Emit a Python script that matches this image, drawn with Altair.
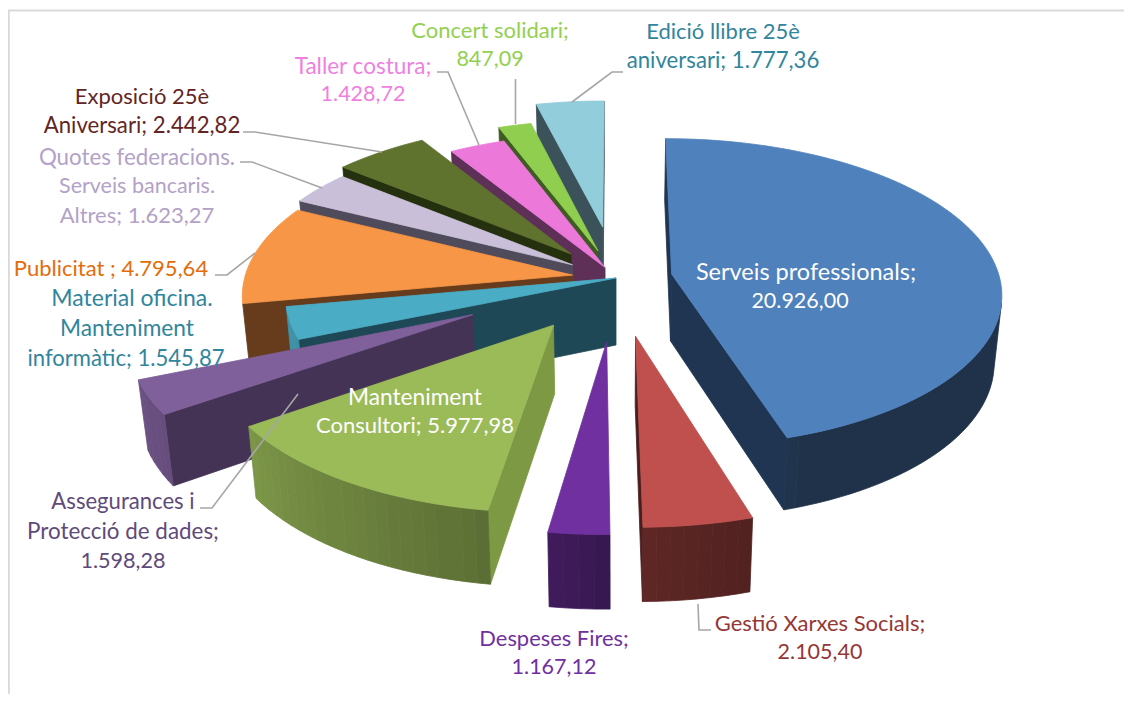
import math
import altair as alt
import numpy as np

# ---------- data ----------
CATEGORIES = ["Serveis professionals", "Gestió Xarxes Socials", "Despeses Fires",
              "Manteniment Consultori", "Assegurances i Protecció de dades",
              "Material oficina. Manteniment informàtic", "Publicitat",
              "Quotes federacions. Serveis bancaris. Altres", "Exposició 25è Aniversari",
              "Taller costura", "Concert solidari", "Edició llibre 25è aniversari"]
VALUES = [20926.00, 2105.40, 1167.12, 5977.98, 1598.28, 1545.87,
          4795.64, 1623.27, 2442.82, 1428.72, 847.09, 1777.36]
EXPLODE = [0.172, 0.37, 0.40, 0.35, 0.485, 0.0, 0.134, 0.16, 0.213, 0.077, 0.19, 0.35]
TOP_COLORS = ["#4f81bd", "#c0504d", "#7030a0", "#9bbb59", "#7f609b", "#4bacc6",
              "#f79646", "#c9bfd9", "#5f732e", "#ec78da", "#8fce4e", "#92cddc"]
CUT_COLORS = ["#1f3552", "#4a1e1d", "#401c5e", "#7e9944", "#443355", "#1f4857",
              "#663c1d", "#4f4b5a", "#25300f", "#5e3058", "#3f5a22", "#3c525b"]
PAINT_ORDER = [11, 10, 9, 8, 7, 6, 5, 4, 3, 2, 1, 0]

LABEL_TEXT = ["Concert solidari;", "847,09", "Edició llibre 25è", "aniversari; 1.777,36",
              "Taller costura;", "1.428,72", "Exposició 25è", "Aniversari; 2.442,82",
              "Quotes federacions.", "Serveis bancaris.", "Altres; 1.623,27",
              "Publicitat ; 4.795,64", "Material oficina.", "Manteniment", "informàtic; 1.545,87",
              "Manteniment", "Consultori; 5.977,98", "Assegurances i", "Protecció de dades;",
              "1.598,28", "Despeses Fires;", "1.167,12", "Gestió Xarxes Socials;", "2.105,40",
              "Serveis professionals;", "20.926,00"]
LABEL_COLOR = ["#92d050"] * 2 + ["#31859c"] * 2 + ["#f07fdf"] * 2 + ["#632523"] * 2 + \
              ["#b3a2c7"] * 3 + ["#e46c0a"] + ["#31859c"] * 3 + ["#ffffff"] * 2 + \
              ["#604a7b"] * 3 + ["#7030a0"] * 2 + ["#953735"] * 2 + ["#ffffff"] * 2
LABEL_X = [490, 490, 723, 723, 363, 363, 142, 142, 137, 137, 137, 111, 132, 127, 126,
           415, 415, 123, 123, 123, 554, 554, 820, 820, 806, 800]
LABEL_Y = [31, 60, 32, 61, 67, 95, 97, 126, 158, 187, 216, 269, 299, 329, 359,
           398, 426, 502, 532, 562, 639, 668, 624, 653, 273, 302]
LABEL_SIZE = [22, 21.5, 22, 22.2, 22.5, 21.5, 22, 22.2, 22.3, 21.5, 22, 22, 23, 22.7, 22.1,
              22.7, 22, 22.1, 22.4, 21.6, 21.9, 21.5, 22, 21.5, 23.5, 21.5]
LEADERS = [[(243, 132), (255, 132), (382, 152)], [(240, 162), (252, 162), (322, 188)],
           [(437, 72), (448, 72), (479, 145)], [(515.5, 79), (515.5, 124)],
           [(623, 72), (612, 72), (572, 102)], [(215, 275), (227, 275), (255, 253)],
           [(200, 508), (212, 508), (298, 394)], [(698, 604), (699, 630), (711, 630)]]
FRAME = [(8.8, 694), (8.8, 10.5), (1124, 10.5)]

# ---------- 3D pie projection ----------
W, H = 1116, 686
CX, CY, A, B, K = 616, 278, 328, 152.6, 0.12


def project(x, y, bottom=False):
    w = 1 + K * y
    sx = CX + A * x / w
    sy = CY - B * y / w
    if bottom:
        sx = CX + (sx - CX) * 0.98
        sy += 67 + (1 - w) * 45
    return [round(sx, 2), round(sy, 2)]


def shade(hex_color, f):
    rgb = [int(hex_color[i:i + 2], 16) for i in (1, 3, 5)]
    return "#%02x%02x%02x" % tuple(int(round(c * f)) for c in rgb)


def poly(points, color):
    ring = points + [points[0]]
    return {"type": "Feature", "properties": {"c": color},
            "geometry": {"type": "Polygon", "coordinates": [ring]}}


def faces_viewer(points):
    # seen from outside a wall's corners run with negative signed area on a y-down screen
    area = sum(points[i][0] * points[(i + 1) % len(points)][1] - points[(i + 1) % len(points)][0] * points[i][1]
               for i in range(len(points)))
    return area < 0


total = sum(VALUES)
edges = np.cumsum([0] + [v / total * 360 for v in VALUES])
features = []
for i in PAINT_ORDER:
    t1, t2 = edges[i], edges[i + 1]
    mid = math.radians((t1 + t2) / 2)
    ax, ay = EXPLODE[i] * math.sin(mid), EXPLODE[i] * math.cos(mid)
    n = max(2, int((t2 - t1) / 2))
    ts = np.linspace(t1, t2, n + 1)
    rim = [(ax + math.sin(math.radians(t)), ay + math.cos(math.radians(t))) for t in ts]
    # cut faces (only those that look at the viewer)
    p0, p1 = rim[0], rim[-1]
    for face in ([project(ax, ay), project(*p0), project(*p0, True), project(ax, ay, True)],
                 [project(*p1), project(ax, ay), project(ax, ay, True), project(*p1, True)]):
        if faces_viewer(face):
            features.append(poly(face, CUT_COLORS[i]))
    # outer wall: neighbouring strips of the same shade are merged into one polygon
    runs = []
    for j in range(n):
        f = float(np.interp((ts[j] + ts[j + 1]) / 2, [160, 165, 180, 190, 235, 250],
                            [0.39, 0.43, 0.50, 0.60, 0.80, 0.85]))
        strip = [project(*rim[j]), project(*rim[j + 1]), project(*rim[j + 1], True), project(*rim[j], True)]
        if not faces_viewer(strip):
            continue
        c = shade(TOP_COLORS[i], round(f * 100) / 100)
        if runs and runs[-1][0] == c and runs[-1][2] == j:
            runs[-1][1].append(j + 1)
            runs[-1][2] = j + 1
        else:
            runs.append([c, [j, j + 1], j + 1])
    for c, idx, _ in runs:
        features.append(poly([project(*rim[k]) for k in idx] +
                             [project(*rim[k], True) for k in reversed(idx)], c))
    # top surface
    features.append(poly([project(ax, ay)] + [project(*p) for p in rim], TOP_COLORS[i]))

lines = [{"type": "Feature", "properties": {"c": "#a6a6a6", "sw": 1.6},
          "geometry": {"type": "LineString", "coordinates": [list(p) for p in l]}} for l in LEADERS]
lines.append({"type": "Feature", "properties": {"c": "#d9d9d9", "sw": 2},
              "geometry": {"type": "LineString", "coordinates": [list(p) for p in FRAME]}})

slices = alt.Chart(alt.Data(values=features)).mark_geoshape(strokeWidth=0.8).encode(
    fill=alt.Fill("properties.c:N", scale=None),
    stroke=alt.Stroke("properties.c:N", scale=None),
).project(**{"type": "identity", "scale": 1, "translate": [-8, -8]})

leader = alt.Chart(alt.Data(values=lines)).mark_geoshape(filled=False).encode(
    stroke=alt.Stroke("properties.c:N", scale=None),
    strokeWidth=alt.StrokeWidth("properties.sw:Q", scale=None),
).project(**{"type": "identity", "scale": 1, "translate": [-8, -8]})

rows = [{"t": t, "c": c, "x": x, "y": y, "s": s}
        for t, c, x, y, s in zip(LABEL_TEXT, LABEL_COLOR, LABEL_X, LABEL_Y, LABEL_SIZE)]
labels = alt.Chart(alt.Data(values=rows)).mark_text(
    font="Lato", align="center", baseline="middle"
).encode(
    x=alt.X("x:Q", axis=None, scale=alt.Scale(domain=[8, 8 + W], nice=False, zero=False)),
    y=alt.Y("y:Q", axis=None, scale=alt.Scale(domain=[8 + H, 8], nice=False, zero=False)),
    text="t:N",
    color=alt.Color("c:N", scale=None),
    size=alt.Size("s:Q", scale=None),
)

chart = alt.layer(slices, leader, labels).properties(
    width=W, height=H, padding=0, background="#ffffff"
).configure_view(stroke=None)

chart.save("out.html", embed_options={"renderer": "svg", "actions": False})
